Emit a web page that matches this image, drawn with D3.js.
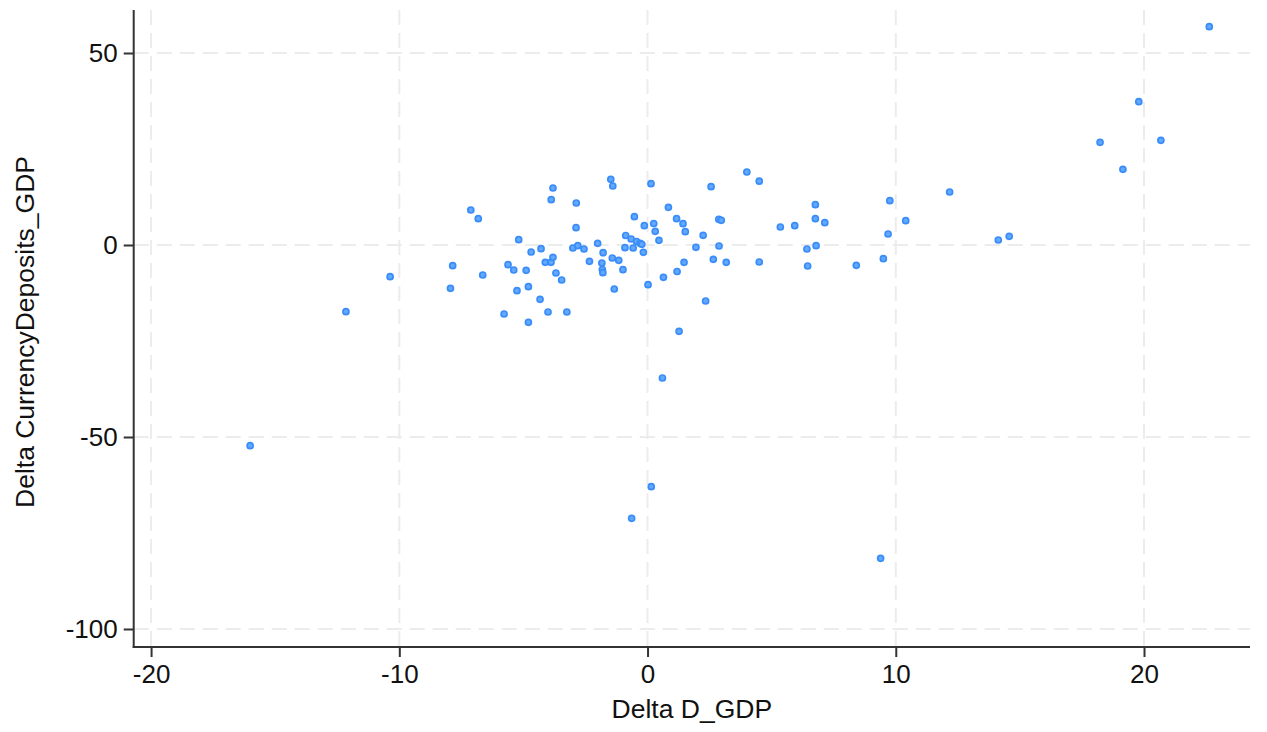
<!DOCTYPE html>
<html>
<head>
<meta charset="utf-8">
<script src="https://cdn.jsdelivr.net/npm/d3@7"></script>
<style>
  html, body { margin: 0; padding: 0; background: #ffffff; }
  svg { display: block; }
</style>
</head>
<body>
<svg id="chart" width="1267" height="732"></svg>
<script>
// Data: Delta D_GDP (x) vs Delta CurrencyDeposits_GDP (y)
const deltaDGDP = [
  -16.01, -12.15, -10.37, -7.94, -7.85, -7.12, -6.82, -6.64, -5.78, -5.62,
  -5.39, -5.26, -5.19, -4.89, -4.80, -4.80, -4.69, -4.33, -4.29, -4.12,
  -4.01, -3.89, -3.88, -3.81, -3.81, -3.69, -3.46, -3.25, -3.01, -2.88,
  -2.87, -2.81, -2.56, -2.34, -2.01, -1.84, -1.82, -1.80, -1.79, -1.48,
  -1.42, -1.40, -1.34, -1.16, -0.99, -0.91, -0.88, -0.66, -0.58, -0.53,
  -0.44, -0.30, -0.23, -0.17, -0.13, 0.02, 0.14, 0.25, 0.31, 0.46,
  -0.64, 0.15, 0.64, 0.84, 1.17, 1.19, 1.27, 1.43, 1.47, 1.52,
  1.95, 2.24, 2.34, 2.56, 2.65, 2.87, 2.97, 2.88, 3.17, 4.00,
  4.50, 4.50, 5.35, 5.93, 6.42, 6.45, 6.76, 6.76, 6.79, 7.14,
  8.41, 9.39, 9.50, 9.69, 9.76, 10.40, 12.17, 14.13, 14.57, 18.23,
  19.15, 19.79, 20.68, 22.63, 0.60
];
const deltaCurrencyDepositsGDP = [
  -52.27, -17.37, -8.26, -11.28, -5.39, 9.11, 6.85, -7.81, -17.97, -5.13,
  -6.51, -11.90, 1.38, -6.59, -10.86, -20.13, -1.82, -14.14, -0.96, -4.51,
  -17.45, -4.51, 11.80, 14.84, -3.20, -7.29, -9.11, -17.45, -0.78, 4.51,
  10.94, -0.18, -1.04, -4.24, 0.44, -4.69, -6.38, -7.21, -2.01, 17.11,
  -3.39, 15.36, -11.46, -3.98, -6.43, -0.70, 2.47, 1.56, -0.78, 7.37,
  0.91, 0.44, 0.18, -1.90, 5.03, -10.34, 15.96, 5.60, 3.57, 1.22,
  -71.17, -62.94, -8.41, 9.82, 6.85, -6.90, -22.47, 5.55, -4.51, 3.46,
  -0.60, 2.53, -14.58, 15.18, -3.72, 6.69, 6.43, -0.26, -4.51, 19.01,
  16.61, -4.43, 4.69, 5.03, -1.04, -5.47, 10.49, 6.85, -0.18, 5.81,
  -5.29, -81.59, -3.57, 2.86, 11.54, 6.33, 13.80, 1.30, 2.27, 26.74,
  19.71, 37.32, 27.27, 56.85, -34.64
];
const xTicks = [-20, -10, 0, 10, 20];
const yTicks = [50, 0, -50, -100];
const xTickLabels = ["-20", "-10", "0", "10", "20"];
const yTickLabels = ["50", "0", "-50", "-100"];
const xTitle = "Delta D_GDP";
const yTitle = "Delta CurrencyDeposits_GDP";

const points = deltaDGDP.map((v, i) => ({ x: v, y: deltaCurrencyDepositsGDP[i] }));

const svg = d3.select("#chart");
const plotL = 133.7, plotR = 1250, plotT = 10, plotB = 647;
const fontFam = "'Liberation Sans', Arial, Helvetica, sans-serif";

const xs = d3.scaleLinear().domain([-20.70, 24.27]).range([plotL, plotR]);
const ys = d3.scaleLinear().domain([-104.69, 61.2]).range([plotB, plotT]);

// Grid
const grid = svg.append("g");
grid.selectAll("line.v").data(xTicks).join("line")
  .attr("class", "v")
  .attr("x1", d => xs(d)).attr("x2", d => xs(d))
  .attr("y1", plotT).attr("y2", plotB)
  .attr("stroke", "#ececec").attr("stroke-width", 2)
  .attr("stroke-dasharray", "15,8");
grid.selectAll("line.h").data(yTicks).join("line")
  .attr("class", "h")
  .attr("x1", plotL).attr("x2", plotR)
  .attr("y1", d => ys(d)).attr("y2", d => ys(d))
  .attr("stroke", "#ececec").attr("stroke-width", 2)
  .attr("stroke-dasharray", "15,8");

// Points
svg.append("g").selectAll("circle").data(points).join("circle")
  .attr("cx", d => xs(d.x)).attr("cy", d => ys(d.y))
  .attr("r", 3)
  .attr("fill", "#62a8ff")
  .attr("stroke", "#3a8df8")
  .attr("stroke-width", 1.7);

// Axes
const xAxis = svg.append("g").attr("transform", `translate(0,${plotB})`)
  .call(d3.axisBottom(xs).tickValues(xTicks)
    .tickFormat((d, i) => xTickLabels[i]).tickSize(10).tickPadding(8).tickSizeOuter(0));
const yAxis = svg.append("g").attr("transform", `translate(${plotL},0)`)
  .call(d3.axisLeft(ys).tickValues(yTicks)
    .tickFormat((d, i) => yTickLabels[i]).tickSize(10).tickPadding(6).tickSizeOuter(0));

[xAxis, yAxis].forEach(g => {
  g.select(".domain").attr("stroke", "#333").attr("stroke-width", 2);
  g.selectAll(".tick line").attr("stroke", "#333").attr("stroke-width", 2);
  g.selectAll(".tick text").attr("fill", "#111").style("font-family", fontFam).style("font-size", "26px");
});
xAxis.select(".domain").attr("d", `M${plotL - 1},0H${plotR}`);
yAxis.select(".domain").attr("d", `M0,${plotT}V${plotB + 1}`);

// Titles
svg.append("text")
  .attr("x", (plotL + plotR) / 2).attr("y", 718)
  .attr("text-anchor", "middle")
  .style("font-family", fontFam).style("font-size", "26.5px").attr("fill", "#111")
  .text(xTitle);
svg.append("text")
  .attr("transform", `translate(34,332) rotate(-90)`)
  .attr("text-anchor", "middle")
  .style("font-family", fontFam).style("font-size", "26.5px").attr("fill", "#111")
  .text(yTitle);
</script>
</body>
</html>
